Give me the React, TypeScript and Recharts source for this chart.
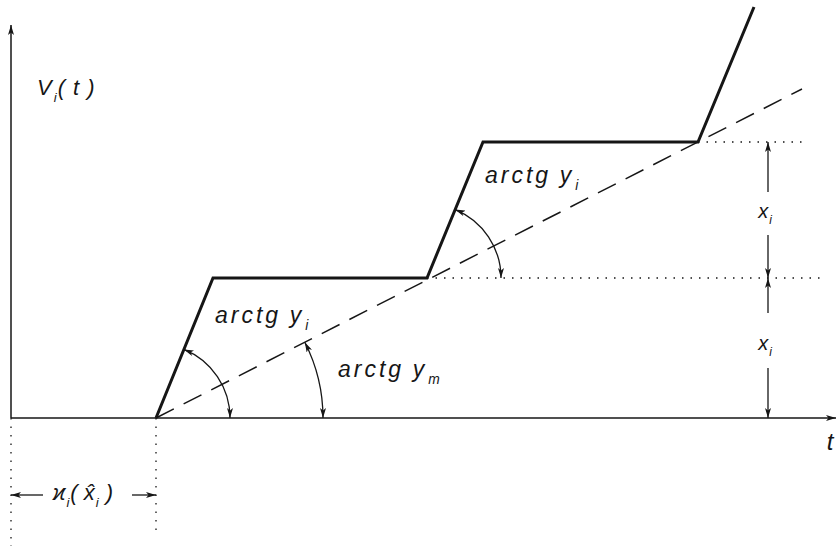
import { ComposedChart, Line, XAxis, YAxis, ReferenceDot } from "recharts";

// time (t) and value (V) of the staircase curve V_i(t)
const stepT = [7.25, 10.1, 20.8, 23.6, 34.35, 37.15];
const stepV = [0, 7, 7, 13.8, 13.8, 20.55];

// mean trend line (slope y_m)
const trendT = [7.25, 39.55];
const trendV = [0, 16.45];

// axes extents
const tMax = 41.25;
const vMax = 19.65;
const vMin = -6.4;
const tMin = -0.55;

// step levels and where their dotted guides end
const levels = [7, 13.8];
const levelStart = [20.8, 34.35];
const levelEnd = [40.45, 39.7];

// dimension arrows for x_i
const dimT = 37.85;
const dimUpper = [13.8, 11.3, 9.15, 7];
const dimLower = [7, 5.25, 2.5, 0];

// mu_i(x_i) interval
const muRow = -3.85;
const muGap = [1.6, 6.05];
const muDrop = [-6.4, -5.7];

const PX = 20; // px per unit (same for both axes)
const INK = "#161616";
const FONT = "'Liberation Sans', 'DejaVu Sans', sans-serif";

const pts = (xs: number[], ys: number[]) => xs.map((x, i) => ({ x, y: ys[i] }));

const deg = (dx: number, dy: number) => (Math.atan2(dy, dx) * 180) / Math.PI;
const rampAngle1 = deg(stepT[1] - stepT[0], stepV[1] - stepV[0]);
const rampAngle2 = deg(stepT[3] - stepT[2], stepV[3] - stepV[2]);
const trendAngle = deg(trendT[1] - trendT[0], trendV[1] - trendV[0]);

function Arc(props: any) {
  const { cx, cy, r, from } = props;
  const a = (from * Math.PI) / 180;
  const x1 = cx + r * Math.cos(a);
  const y1 = cy - r * Math.sin(a);
  return (
    <path
      d={`M${x1},${y1} A${r},${r} 0 0 1 ${cx + r},${cy}`}
      fill="none"
      stroke={INK}
      strokeWidth={1.3}
      markerStart="url(#ah)"
      markerEnd="url(#ah)"
    />
  );
}

// parts: plain strings, or ["sub"] arrays for subscripts
function Lbl(props: any) {
  const { cx, cy, parts, size = 23, spacing = 3, anchor = "start" } = props;
  let level = 0;
  return (
    <text
      x={cx}
      y={cy}
      fontFamily={FONT}
      fontStyle="italic"
      fontSize={size}
      fill={INK}
      textAnchor={anchor}
    >
      {parts.map((p: any, i: number) => {
        const sub = Array.isArray(p);
        const target = sub ? size * 0.3 : 0;
        const dy = target - level;
        level = target;
        return (
          <tspan
            key={i}
            dy={dy}
            dx={i > 0 ? 1 : 0}
            fontSize={sub ? size * 0.6 : size}
            letterSpacing={sub ? 0 : spacing}
          >
            {sub ? p[0] : p}
          </tspan>
        );
      })}
    </text>
  );
}

const solid = (key: string, data: any[], w: number, end = false) => (
  <Line
    key={key}
    data={data}
    dataKey="y"
    stroke={INK}
    strokeWidth={w}
    dot={false}
    activeDot={false}
    isAnimationActive={false}
    markerEnd={end ? "url(#ah)" : undefined}
  />
);

const dotted = (key: string, data: any[]) => (
  <Line
    key={key}
    data={data}
    dataKey="y"
    stroke={INK}
    strokeWidth={1.3}
    strokeDasharray="1.5 7"
    dot={false}
    activeDot={false}
    isAnimationActive={false}
  />
);

export default function App() {
  return (
    <div style={{ position: "absolute", left: 0, top: 0, background: "#fff" }}>
      <ComposedChart width={840} height={546} margin={{ top: 0, right: 0, bottom: 0, left: 0 }}>
        <defs>
          <marker
            id="ah"
            viewBox="0 0 10 6"
            markerWidth={10}
            markerHeight={6}
            refX={10}
            refY={3}
            markerUnits="userSpaceOnUse"
            orient="auto-start-reverse"
          >
            <path d="M0,0 L10,3 L0,6 L2.5,3 z" fill={INK} />
          </marker>
        </defs>
        <XAxis type="number" dataKey="x" domain={[tMin, tMin + 840 / PX]} hide />
        <YAxis type="number" dataKey="y" domain={[vMin, vMin + 546 / PX]} hide />

        {/* axes */}
        {solid("yaxis", pts([0, 0], [0, vMax]), 1.5, true)}
        {solid("xaxis", pts([0, tMax], [0, 0]), 1.5, true)}

        {/* dotted guides */}
        {levels.map((v, i) => dotted(`lvl${i}`, pts([levelStart[i], levelEnd[i]], [v, v])))}
        {dotted("drop0", pts([0, 0], [0, muDrop[0]]))}
        {dotted("drop1", pts([stepT[0], stepT[0]], [0, muDrop[1]]))}

        {/* trend line */}
        <Line
          data={pts(trendT, trendV)}
          dataKey="y"
          stroke={INK}
          strokeWidth={1.5}
          strokeDasharray="20 11"
          dot={false}
          activeDot={false}
          isAnimationActive={false}
        />

        {/* staircase */}
        {solid("steps", pts(stepT, stepV), 3)}

        {/* x_i dimension arrows */}
        {solid("d1a", pts([dimT, dimT], [dimUpper[1], dimUpper[0]]), 1.3, true)}
        {solid("d1b", pts([dimT, dimT], [dimUpper[2], dimUpper[3]]), 1.3, true)}
        {solid("d2a", pts([dimT, dimT], [dimLower[1], dimLower[0]]), 1.3, true)}
        {solid("d2b", pts([dimT, dimT], [dimLower[2], dimLower[3]]), 1.3, true)}

        {/* mu interval arrows */}
        {solid("m1", pts([muGap[0], 0], [muRow, muRow]), 1.3, true)}
        {solid("m2", pts([muGap[1], stepT[0]], [muRow, muRow]), 1.3, true)}

        {/* angle arcs */}
        <ReferenceDot x={stepT[0]} y={0} shape={(p: any) => <Arc {...p} r={74} from={rampAngle1} />} />
        <ReferenceDot x={stepT[0]} y={0} shape={(p: any) => <Arc {...p} r={167} from={trendAngle} />} />
        <ReferenceDot x={stepT[2]} y={stepV[2]} shape={(p: any) => <Arc {...p} r={74} from={rampAngle2} />} />

        {/* labels */}
        <ReferenceDot x={1.3} y={16.15} shape={(p: any) => <Lbl {...p} parts={["V", ["i"], "( t )"]} size={22} spacing={1} />} />
        <ReferenceDot x={10.2} y={4.75} shape={(p: any) => <Lbl {...p} parts={["arctg\u2009", "y", ["i"]]} />} />
        <ReferenceDot x={16.35} y={2.05} shape={(p: any) => <Lbl {...p} parts={["arctg\u2009", "y", ["m"]]} />} />
        <ReferenceDot x={23.7} y={11.75} shape={(p: any) => <Lbl {...p} parts={["arctg\u2009", "y", ["i"]]} />} />
        <ReferenceDot x={dimT - 0.15} y={10} shape={(p: any) => <Lbl {...p} parts={["x", ["i"]]} size={20} spacing={0} anchor="middle" />} />
        <ReferenceDot x={dimT - 0.15} y={3.4} shape={(p: any) => <Lbl {...p} parts={["x", ["i"]]} size={20} spacing={0} anchor="middle" />} />
        <ReferenceDot x={40.95} y={-1.6} shape={(p: any) => <Lbl {...p} parts={["t"]} size={24} spacing={0} anchor="middle" />} />
        <ReferenceDot x={2.1} y={-4.1} shape={(p: any) => <Lbl {...p} parts={["ϰ", ["i"], "( x\u0302", ["i"], " )"]} size={22} spacing={0} />} />
      </ComposedChart>
    </div>
  );
}
